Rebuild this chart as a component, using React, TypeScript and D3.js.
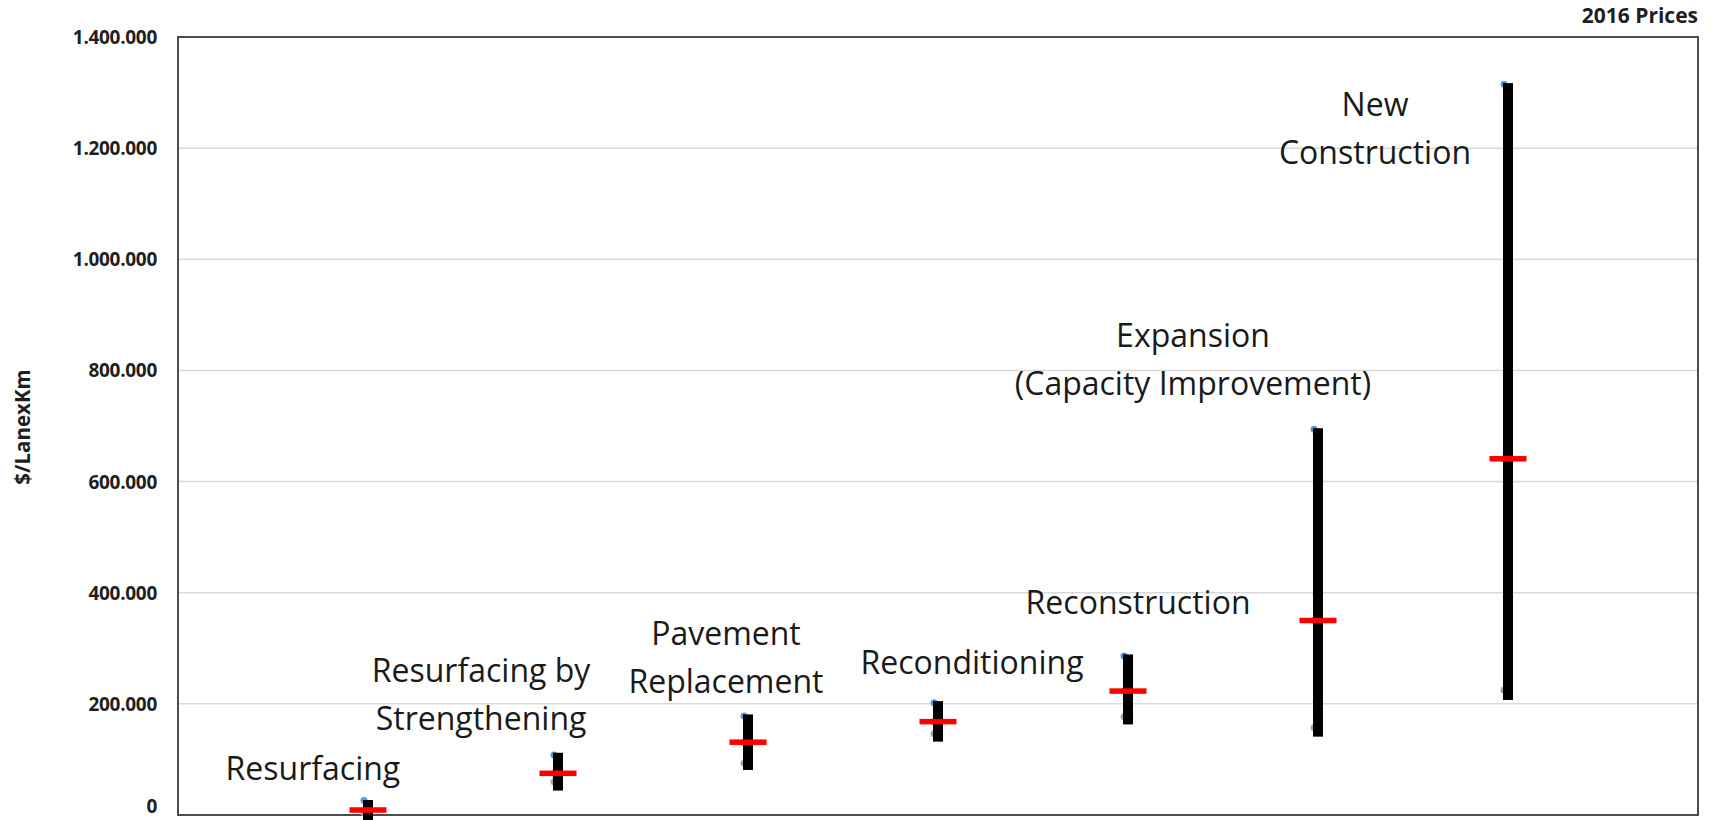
import React from "react";
import * as d3 from "d3";

// ---- data ----
const categories = [
  "Resurfacing",
  "Resurfacing by Strengthening",
  "Pavement Replacement",
  "Reconditioning",
  "Reconstruction",
  "Expansion (Capacity Improvement)",
  "New Construction",
];
const labelLines = [
  ["Resurfacing"],
  ["Resurfacing by", "Strengthening"],
  ["Pavement", "Replacement"],
  ["Reconditioning"],
  ["Reconstruction"],
  ["Expansion", "(Capacity Improvement)"],
  ["New", "Construction"],
];
const rangeHigh = [27000, 112000, 181000, 205000, 289000, 696000, 1317000];
const rangeLow = [-10000, 44000, 81000, 132000, 163000, 141000, 207000];
const maxValues = [26000, 108000, 178000, 202000, 286000, 694000, 1315000];
const meanValues = [9000, 75000, 131000, 168000, 223000, 350000, 641000];
const minValues = [4000, 60000, 93000, 146000, 177000, 157000, 225000];
const yTicks = [0, 200000, 400000, 600000, 800000, 1000000, 1200000, 1400000];
// annotation anchors in data space: x position (category units), first-line baseline value
const labelX = [0.71, 1.595, 2.884, 4.179, 5.053, 5.342, 6.3];
const labelY = [63000, 239500, 305500, 254600, 362400, 841500, 1258000];

const W = 1712;
const H = 820;
const left = 178;
const right = 1698;
const top = 37;
const bottom = 815;

const fmt = d3
  .formatLocale({ decimal: ",", thousands: ".", grouping: [3], currency: ["$", ""] })
  .format(",");

export default function App() {
  const x = d3.scaleLinear().domain([0, categories.length + 1]).range([left, right]);
  const y = d3.scaleLinear().domain([0, 1400000]).range([bottom, top]);
  const font = "'Open Sans', 'DejaVu Sans', sans-serif";
  const barW = 10;
  const meanW = 37;
  const meanH = 5.5;
  const lineGap = 48;

  return (
    <svg
      width={W}
      height={H}
      style={{ position: "absolute", left: 0, top: 0, background: "#fff" }}
    >
      <rect x={0} y={0} width={W} height={H} fill="#fff" />
      {/* gridlines */}
      {yTicks
        .filter((t) => t > 0 && t < 1400000)
        .map((t) => (
          <line
            key={"g" + t}
            x1={left}
            x2={right}
            y1={y(t)}
            y2={y(t)}
            stroke="#d9d9d9"
            strokeWidth={1.5}
          />
        ))}
      {/* frame */}
      <rect
        x={left}
        y={top}
        width={right - left}
        height={bottom - top}
        fill="none"
        stroke="#3a3a3a"
        strokeWidth={1.8}
      />
      {/* y tick labels */}
      {yTicks.map((t) => (
        <text
          key={"t" + t}
          x={157}
          y={t === 0 ? y(t) - 9 : y(t)}
          textAnchor="end"
          dominantBaseline="central"
          fontFamily={font}
          fontWeight={700}
          fontSize={19}
          fill="#1f1f1f"
          letterSpacing={-0.3}
        >
          {fmt(t)}
        </text>
      ))}
      {/* y axis title */}
      <text
        transform={`translate(22,427) rotate(-90)`}
        textAnchor="middle"
        dominantBaseline="central"
        fontFamily={font}
        fontWeight={700}
        fontSize={20.5}
        fill="#1f1f1f"
      >
        $/LanexKm
      </text>
      {/* top-right note */}
      <text
        x={1698}
        y={23}
        textAnchor="end"
        fontFamily={font}
        fontWeight={700}
        fontSize={21}
        fill="#1f1f1f"
      >
        2016 Prices
      </text>
      {/* series dots (mostly hidden behind bars) */}
      {categories.map((c, i) => (
        <g key={"d" + c}>
          <circle cx={x(i + 1) - 4} cy={y(maxValues[i])} r={3.5} fill="#5b9bd5" />
          <circle cx={x(i + 1) - 4} cy={y(meanValues[i])} r={3.5} fill="#ed7d31" />
          <circle cx={x(i + 1) - 4} cy={y(minValues[i])} r={3.5} fill="#a5a5a5" />
        </g>
      ))}
      {/* range bars */}
      {categories.map((c, i) => (
        <rect
          key={"b" + c}
          x={x(i + 1) - barW / 2}
          y={y(rangeHigh[i])}
          width={barW}
          height={y(rangeLow[i]) - y(rangeHigh[i])}
          fill="#000"
        />
      ))}
      {/* mean markers */}
      {categories.map((c, i) => (
        <rect
          key={"m" + c}
          x={x(i + 1) - meanW / 2}
          y={y(meanValues[i]) - meanH / 2}
          width={meanW}
          height={meanH}
          fill="#ff0000"
        />
      ))}
      {/* category annotations */}
      {labelLines.map((lines, i) => (
        <text
          key={"l" + i}
          x={x(labelX[i])}
          y={y(labelY[i])}
          textAnchor="middle"
          fontFamily={font}
          fontSize={32}
          fill="#1a1a1a"
        >
          {lines.map((ln, j) => (
            <tspan key={j} x={x(labelX[i])} dy={j === 0 ? 0 : lineGap}>
              {ln}
            </tspan>
          ))}
        </text>
      ))}
    </svg>
  );
}
